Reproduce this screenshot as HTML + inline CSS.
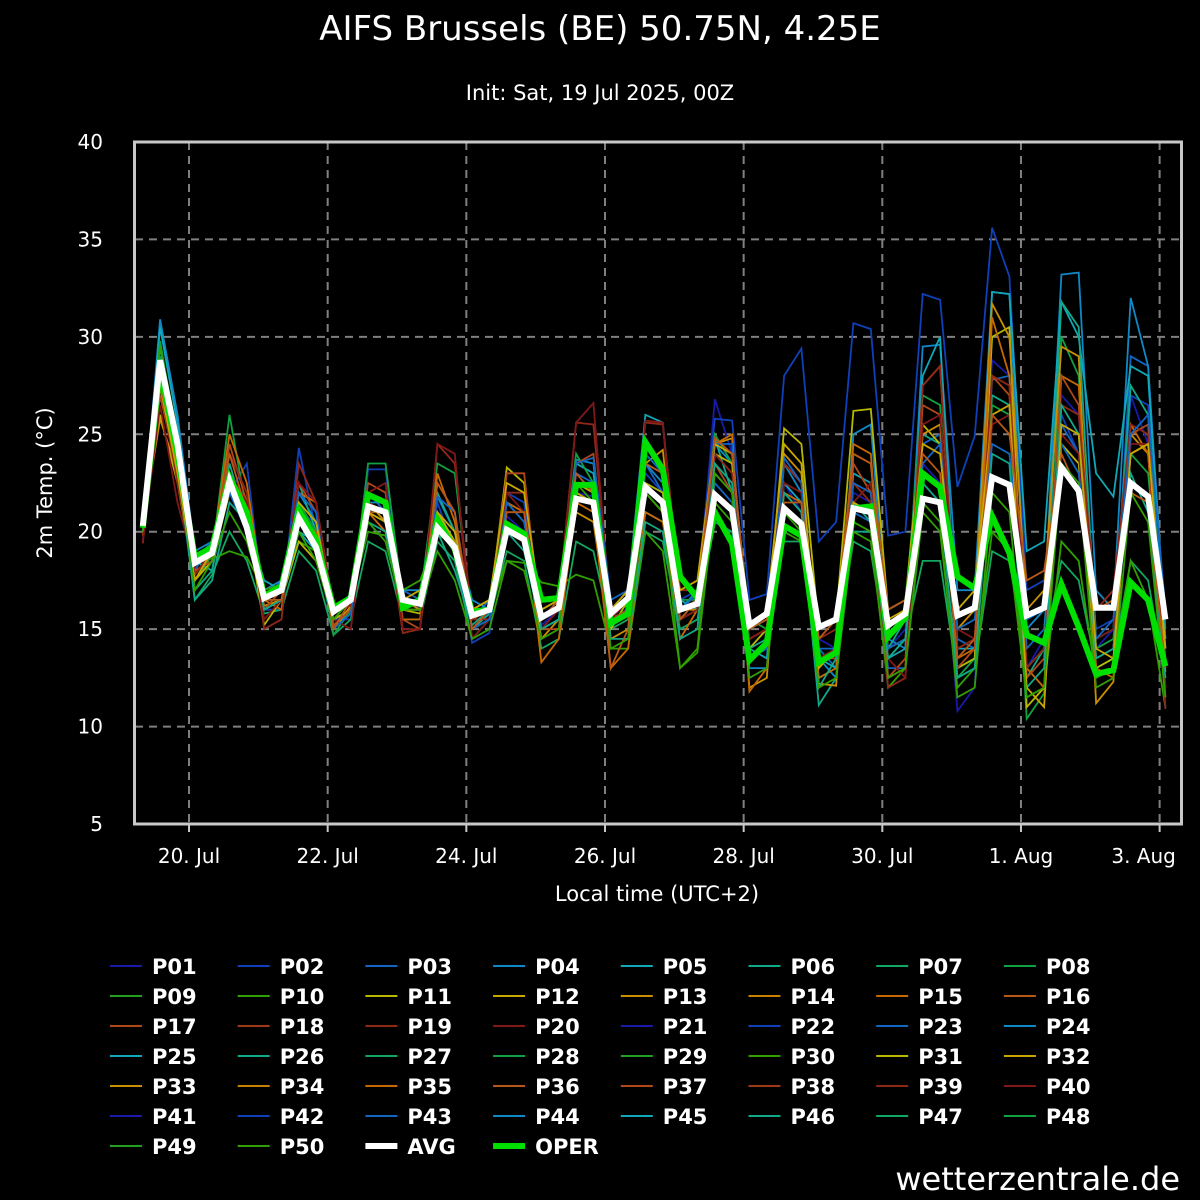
<!DOCTYPE html>
<html><head><meta charset="utf-8"><style>
html,body{margin:0;padding:0;background:#000;}
svg{display:block;}
text{font-family:"DejaVu Sans","Liberation Sans",sans-serif;fill:#fff;}
</style></head><body>
<svg id="c" width="1200" height="1200" viewBox="0 0 1200 1200">
<rect x="0" y="0" width="1200" height="1200" fill="#000"/>
<text x="600" y="40" font-size="34" text-anchor="middle">AIFS Brussels (BE) 50.75N, 4.25E</text>
<text x="600" y="100" font-size="21" text-anchor="middle">Init: Sat, 19 Jul 2025, 00Z</text>
<text transform="translate(52,483) rotate(-90)" font-size="21" text-anchor="middle">2m Temp. (°C)</text>
<text x="657" y="901" font-size="21" text-anchor="middle">Local time (UTC+2)</text>
<text x="1180" y="1190" font-size="32" text-anchor="end">wetterzentrale.de</text>
<g id="grid"></g>
<g id="series"></g>
<rect x="134.5" y="142" width="1047" height="682" fill="none" stroke="#c8c8c8" stroke-width="3"/>
<g id="axes"></g>
<g id="legend"></g>
</svg>
<script>
const yTicks=[5,10,15,20,25,30,35,40];
const xTickHours=[24,72,120,168,216,264,312,360];
const xTickLabels=["20. Jul","22. Jul","24. Jul","26. Jul","28. Jul","30. Jul","1. Aug","3. Aug"];
const startHour=8, stepHours=6;
const avg=[20.3,28.8,24.5,18.4,18.9,22.6,20.2,16.6,17.0,20.7,19.2,15.9,16.5,21.3,21.0,16.5,16.3,20.2,19.2,15.7,16.0,20.1,19.6,15.6,16.1,21.7,21.5,15.8,16.6,22.3,21.5,16.0,16.3,21.9,21.1,15.2,15.8,21.2,20.4,15.1,15.5,21.2,21.0,15.2,15.8,21.7,21.5,15.7,16.1,22.8,22.4,15.7,16.1,23.3,22.1,16.1,16.1,22.5,21.8,15.5];
const oper=[20.2,28.4,24.0,18.7,19.2,22.8,21.0,16.7,17.2,21.1,19.6,16.1,16.6,21.9,21.5,16.1,16.5,20.6,19.1,15.9,16.0,20.4,19.9,16.5,16.6,22.4,22.4,15.3,15.8,24.6,23.2,17.7,16.6,21.0,19.4,13.4,14.3,20.3,19.8,13.3,13.8,21.2,21.3,14.6,15.6,23.0,22.3,17.7,17.1,20.8,18.9,14.7,14.3,17.3,15.1,12.7,12.9,17.4,16.5,13.1];
const m1=[19.5,27.0,23.5,18.0,18.5,22.0,21.5,16.0,16.5,21.0,20.5,15.5,15.8,21.0,20.5,16.8,16.0,21.0,20.0,15.0,15.8,20.8,20.0,15.2,16.0,22.0,21.8,15.0,16.2,22.5,22.0,15.5,16.0,26.8,24.0,14.0,15.0,22.5,21.0,14.5,14.0,22.0,21.5,14.0,15.0,23.5,22.5,10.8,12.0,28.8,28.0,13.0,14.5,27.0,26.0,14.0,15.0,27.0,24.5,11.0];
const m2=[20.0,27.5,23.0,18.5,19.0,22.0,23.5,16.0,16.0,24.3,20.0,15.5,15.5,23.2,23.2,16.5,16.5,21.5,19.0,14.3,14.8,22.0,21.5,15.0,15.5,22.5,22.0,16.0,16.5,23.0,22.0,16.5,17.0,25.8,25.7,16.5,16.8,28.0,29.4,19.5,20.5,30.7,30.4,19.8,20.0,32.2,31.9,22.3,24.9,35.6,33.1,17.0,17.5,26.0,24.0,15.0,15.5,27.0,26.5,14.5];
const m3=[20.5,28.0,24.0,18.0,19.5,23.0,20.0,16.5,17.5,21.0,19.0,16.0,16.8,22.0,21.0,17.0,16.5,20.0,19.5,15.5,16.5,21.5,21.0,15.0,16.0,23.0,22.5,16.0,16.5,23.5,22.0,15.5,16.5,22.5,21.5,13.5,14.0,23.5,22.5,14.0,13.0,21.0,20.5,13.0,13.0,24.5,25.0,14.5,14.0,27.8,28.0,14.0,15.0,25.5,24.0,13.5,14.0,29.0,28.5,14.5];
const m4=[20.2,30.9,26.0,19.0,19.5,23.0,21.0,17.0,17.5,22.0,20.5,16.0,16.5,21.5,21.5,17.0,17.0,21.8,20.0,16.5,16.0,20.0,19.5,15.5,16.5,23.7,23.5,15.5,16.0,23.5,22.5,16.0,17.0,24.5,23.5,13.0,13.0,23.5,22.0,13.5,12.5,25.0,25.5,14.5,14.0,29.5,29.6,17.0,17.0,32.3,32.2,15.0,16.0,33.2,33.3,17.0,16.0,32.0,28.5,15.0];
const m5=[20.0,30.5,25.5,18.5,18.0,22.5,20.5,17.5,17.0,20.0,19.0,15.0,16.0,21.0,20.5,16.0,16.0,21.0,19.5,15.0,15.5,20.0,20.0,15.0,15.5,23.5,23.0,16.0,17.0,26.0,25.6,16.5,16.0,23.0,22.0,14.0,13.5,22.5,21.5,13.5,13.0,23.0,22.5,13.5,14.0,28.0,30.0,14.0,14.0,32.3,32.2,19.0,19.5,31.8,30.0,23.0,21.8,28.5,28.0,14.5];
const m6=[20.5,29.5,24.5,17.0,18.0,23.5,20.5,16.0,16.5,22.5,20.0,15.5,16.0,22.0,21.5,16.0,16.5,22.0,20.0,15.0,15.8,20.5,19.5,15.5,16.0,22.0,21.5,15.5,16.5,21.0,20.5,16.0,16.5,24.8,22.0,15.0,15.5,21.0,20.5,11.1,12.5,20.0,20.0,14.0,15.5,25.0,24.5,13.0,13.5,27.0,26.5,12.5,14.0,31.8,30.5,14.5,15.0,27.5,26.0,13.0];
const m7=[20.3,29.0,24.0,16.5,17.8,20.0,18.5,15.8,16.0,19.0,18.0,14.7,15.5,19.5,19.0,15.5,15.5,19.5,18.5,14.5,15.5,19.0,18.5,14.0,14.5,19.5,19.0,15.0,15.5,20.0,19.5,15.0,15.5,20.5,20.0,14.5,15.0,19.5,19.5,13.5,14.0,19.5,19.0,13.5,14.5,18.5,18.5,12.5,13.0,19.0,18.5,13.0,14.0,18.5,17.5,13.0,13.5,18.5,17.5,12.5];
const m8=[20.4,29.8,24.5,17.5,18.8,26.0,21.0,16.0,16.5,21.5,20.0,14.7,16.0,23.5,23.5,16.5,16.5,23.5,23.0,15.5,16.0,21.5,20.5,16.0,16.5,24.0,22.5,16.0,16.2,22.0,21.0,16.5,16.5,25.0,23.5,15.5,15.0,22.0,21.0,13.0,14.0,21.5,21.0,15.0,16.0,27.0,26.5,12.5,13.5,26.5,26.0,10.4,11.7,30.0,28.0,14.0,14.5,24.0,23.0,13.5];
const m9=[20.5,29.5,25.0,18.8,18.6,19.0,18.7,17.0,17.3,19.5,19.0,16.0,16.5,20.0,19.8,17.0,17.5,19.8,19.5,15.5,16.0,18.5,18.4,17.4,17.2,17.8,17.5,14.0,14.0,20.0,19.0,13.0,13.8,21.5,20.5,14.5,15.0,20.0,19.5,12.5,13.0,20.5,20.0,12.0,13.0,21.0,20.0,12.0,13.0,20.0,19.0,11.5,12.0,19.5,18.5,12.5,13.0,18.5,16.5,11.0];
const m10=[20.8,26.0,22.5,17.5,18.5,22.0,20.5,15.2,16.5,19.5,18.5,15.5,16.0,21.5,20.5,16.0,15.8,21.0,19.5,15.5,16.0,23.3,22.5,15.5,16.0,22.5,22.0,15.0,16.5,22.5,22.0,15.5,16.0,24.0,23.5,14.0,15.0,25.3,24.5,15.0,15.5,26.2,26.3,16.0,16.5,25.5,24.5,13.0,13.5,30.0,30.5,11.0,12.0,24.5,23.5,13.0,13.5,24.0,24.5,14.0];
const m11=[20.3,25.8,23.0,17.8,19.0,22.5,21.0,16.2,16.5,20.5,19.8,15.0,16.2,21.5,20.5,16.5,16.0,20.5,19.5,16.0,16.5,20.5,20.0,14.5,15.5,21.0,20.5,14.5,15.0,23.5,24.2,16.0,16.0,24.5,24.8,12.0,12.5,24.0,23.0,12.2,12.1,24.0,23.5,14.0,14.5,25.0,25.5,15.0,16.0,31.7,30.0,16.0,17.0,29.5,29.0,11.2,12.3,25.0,24.0,12.8];
const m12=[20.0,28.5,24.5,17.5,19.0,25.0,22.5,16.5,16.0,22.0,21.5,16.0,16.5,21.0,20.0,15.5,15.5,23.0,20.5,15.5,16.0,21.5,21.0,13.3,14.5,21.5,21.0,13.0,14.0,21.0,20.5,14.5,16.0,24.5,25.0,11.8,13.0,22.0,21.5,12.5,13.0,24.5,24.0,12.5,13.0,27.5,28.5,13.5,14.0,31.0,28.0,13.0,12.0,28.0,27.5,13.0,12.5,25.5,24.0,12.0];
const m13=[19.8,27.0,23.0,18.0,18.5,24.5,21.5,16.0,17.0,22.5,21.0,15.2,16.0,22.5,22.0,15.5,15.0,22.5,21.0,15.5,16.0,23.0,23.0,15.0,15.0,23.5,24.0,15.5,16.0,23.5,23.0,16.0,16.5,23.5,22.0,14.5,15.0,23.5,22.5,13.5,13.5,23.5,22.0,12.5,13.5,26.5,26.0,13.0,14.0,28.0,27.0,12.5,13.5,28.0,26.5,13.5,14.0,25.0,25.5,11.5];
const m14=[19.4,27.5,22.5,17.8,19.0,24.0,22.0,15.0,15.5,23.5,21.5,16.0,16.2,21.5,21.0,14.8,15.0,24.5,23.5,15.5,15.5,22.0,22.0,16.0,16.5,25.6,25.5,16.0,16.5,25.6,25.5,17.0,17.0,24.0,23.0,14.5,15.0,23.5,22.5,14.5,15.0,22.5,21.5,12.0,12.5,27.5,28.5,14.0,14.5,28.0,27.5,13.0,14.0,26.5,26.0,16.0,17.0,25.5,25.0,10.9];
const m15=[19.5,26.5,21.5,18.2,19.5,23.0,21.5,15.5,16.5,22.5,21.5,15.5,15.0,22.0,22.5,15.0,15.0,24.5,24.0,14.5,15.5,22.0,21.0,15.0,16.0,25.6,26.6,15.5,16.5,25.7,25.6,15.5,16.0,23.0,22.0,14.5,15.0,22.5,22.0,13.5,14.0,21.5,22.5,13.5,12.5,25.5,26.0,15.0,14.5,25.5,26.0,15.5,16.0,25.0,24.0,14.5,15.0,24.5,24.5,12.0];
const m16=[20.0,28.0,23.5,18.5,19.5,22.0,20.0,16.5,17.0,22.0,21.0,15.0,15.8,22.0,21.5,16.5,16.5,21.8,21.0,15.0,15.5,21.5,20.5,15.5,16.0,23.5,23.8,16.5,17.0,24.0,23.0,16.0,16.8,24.5,24.5,13.5,14.0,23.8,22.5,14.0,14.0,22.5,22.0,14.0,14.5,23.5,24.5,15.0,15.5,24.5,24.0,15.5,16.0,24.5,23.0,14.5,15.5,25.0,26.0,16.0];
const m17=[20.2,28.5,23.5,16.5,17.5,21.5,20.5,16.0,16.5,20.0,19.5,15.5,16.5,20.5,20.0,16.0,16.5,20.0,18.0,15.2,16.0,20.0,19.0,15.0,15.5,22.0,21.5,14.5,14.5,20.5,20.0,14.5,15.0,23.5,22.5,14.0,14.5,22.0,21.0,12.0,13.5,21.5,20.5,13.5,14.5,22.5,21.5,12.5,13.0,24.0,23.5,12.0,13.0,26.5,25.0,13.5,14.0,23.0,21.0,12.5];
const m18=[20.5,27.5,23.0,17.5,19.0,22.5,21.0,16.5,17.0,21.5,20.5,16.0,16.5,21.0,20.5,16.5,17.0,21.0,20.0,16.0,16.5,22.5,22.0,16.0,16.5,22.0,21.5,16.0,17.0,22.0,21.0,17.0,17.5,24.5,24.0,15.0,16.0,24.5,23.5,13.0,14.0,21.5,21.0,15.5,16.0,24.5,24.0,16.0,17.0,26.0,26.5,12.0,11.0,25.5,25.0,14.0,13.5,24.0,24.5,14.0];
const m19=[20.3,27.5,24.0,18.5,19.0,24.0,21.0,16.5,16.5,20.5,20.0,15.0,16.5,21.0,21.0,16.0,16.0,22.5,21.0,15.0,16.0,21.0,21.0,15.5,16.5,23.0,22.0,13.0,15.0,23.5,23.0,15.5,16.5,24.8,24.0,15.0,15.5,21.5,21.5,14.5,15.5,24.0,23.5,16.0,16.5,24.0,23.0,13.5,14.5,26.0,25.0,17.5,18.0,24.0,22.0,16.0,16.5,22.0,21.5,13.0];
const m20=[20.0,28.0,24.0,17.0,18.5,21.0,19.5,16.5,17.0,20.0,18.5,15.5,16.5,20.5,19.5,16.0,16.0,19.0,17.5,14.5,15.0,18.5,18.0,14.5,15.0,22.5,21.5,14.0,14.5,22.0,21.0,13.0,14.0,23.0,22.0,12.5,13.0,21.0,20.0,12.0,12.5,20.0,19.5,12.5,13.0,21.5,20.5,11.5,12.0,22.0,21.0,11.5,12.0,23.5,22.5,12.0,12.5,22.0,20.5,11.5];
const members=[m1,m2,m3,m4,m5,m6,m7,m8,m9,m10,m11,m12,m13,m14,m15,m16,m17,m18,m19,m20];
const memberNames=["P01","P02","P03","P04","P05","P06","P07","P08","P10","P11","P13","P15","P17","P19","P20","P23","P26","P32","P36","P50"];

const palette=["#1a1aa8","#1040b8","#1066c0","#1088c8","#10a8b8","#10a888","#10a860","#10a040","#20a020","#30a000","#b8b800","#c8a800","#c89000","#c88000","#c86800","#b85818","#b04818","#a03818","#902818","#801818"];
const memberColor={P01:0,P02:1,P03:2,P04:3,P05:4,P06:5,P07:6,P08:7,P10:9,P11:10,P13:12,P15:14,P17:16,P19:18,P20:19,P23:2,P26:5,P32:11,P36:15,P50:9};
const NS="http://www.w3.org/2000/svg";
const X0=135,X1=1181,Y0=142,Y1=824,H0=5.3,H1=367.4;
function xs(h){return X0+(h-H0)/(H1-H0)*(X1-X0);}
function ys(v){return Y1-(v-5)/(40-5)*(Y1-Y0);}
function el(t,a){const e=document.createElementNS(NS,t);for(const k in a)e.setAttribute(k,a[k]);return e;}
const grid=document.getElementById('grid'),axes=document.getElementById('axes'),ser=document.getElementById('series'),leg=document.getElementById('legend');
yTicks.forEach(v=>{
  if(v>5&&v<40){const g=el('line',{x1:X0,x2:X1,y1:ys(v),y2:ys(v),stroke:'#808080','stroke-width':2,'stroke-dasharray':'8,6'});
  
  
  grid.appendChild(g);}
  const t=el('text',{x:103,y:ys(v)+7,'font-size':20,'text-anchor':'end'});t.textContent=v;
  
  
  axes.appendChild(t);
});
xTickHours.forEach((h,i)=>{
  const g=el('line',{x1:xs(h),x2:xs(h),y1:Y0,y2:Y1,stroke:'#808080','stroke-width':2,'stroke-dasharray':'8,6'});
  
  
  grid.appendChild(g);
  const tk=el('line',{x1:xs(h),x2:xs(h),y1:Y1,y2:Y1+8,stroke:'#c8c8c8','stroke-width':2});
  
  
  axes.appendChild(tk);
  const anchorX=i===xTickLabels.length-1?xs(h)-16:xs(h);
  const t=el('text',{x:anchorX,y:863,'font-size':20,'text-anchor':'middle'});t.textContent=xTickLabels[i];
  
  
  axes.appendChild(t);
});
function pts(arr){return arr.map((v,i)=>xs(startHour+stepHours*i).toFixed(1)+','+ys(v).toFixed(1)).join(' ');}
members.forEach((arr,k)=>{
  const p=el('polyline',{points:pts(arr),fill:'none',stroke:palette[memberColor[memberNames[k]]],'stroke-width':1.8,'stroke-linejoin':'miter'});
  
  
  ser.appendChild(p);
});
const po=el('polyline',{points:pts(oper),fill:'none',stroke:'#00e000','stroke-width':6,'stroke-linejoin':'miter'});


ser.appendChild(po);
const pa=el('polyline',{points:pts(avg),fill:'none',stroke:'#ffffff','stroke-width':6,'stroke-linejoin':'miter'});


ser.appendChild(pa);
// legend
const legendLabels=[];for(let i=1;i<=50;i++)legendLabels.push('P'+String(i).padStart(2,'0'));legendLabels.push('AVG','OPER');
legendLabels.forEach((lab,i)=>{
  const col=i%8,row=Math.floor(i/8);
  const lx=110+col*127.7,ly=966+row*30;
  let c,w;
  if(lab==='AVG'){c='#fff';w=6;}else if(lab==='OPER'){c='#00e000';w=6;}else{c=palette[i%20];w=2;}
  const g=el('g',{});
  
  
  g.appendChild(el('line',{x1:lx,x2:lx+32,y1:ly,y2:ly,stroke:c,'stroke-width':w}));
  const t=el('text',{x:lx+42,y:ly+8,'font-size':21,'font-weight':'bold'});t.textContent=lab;
  g.appendChild(t);
  leg.appendChild(g);
});
</script>
</body></html>
